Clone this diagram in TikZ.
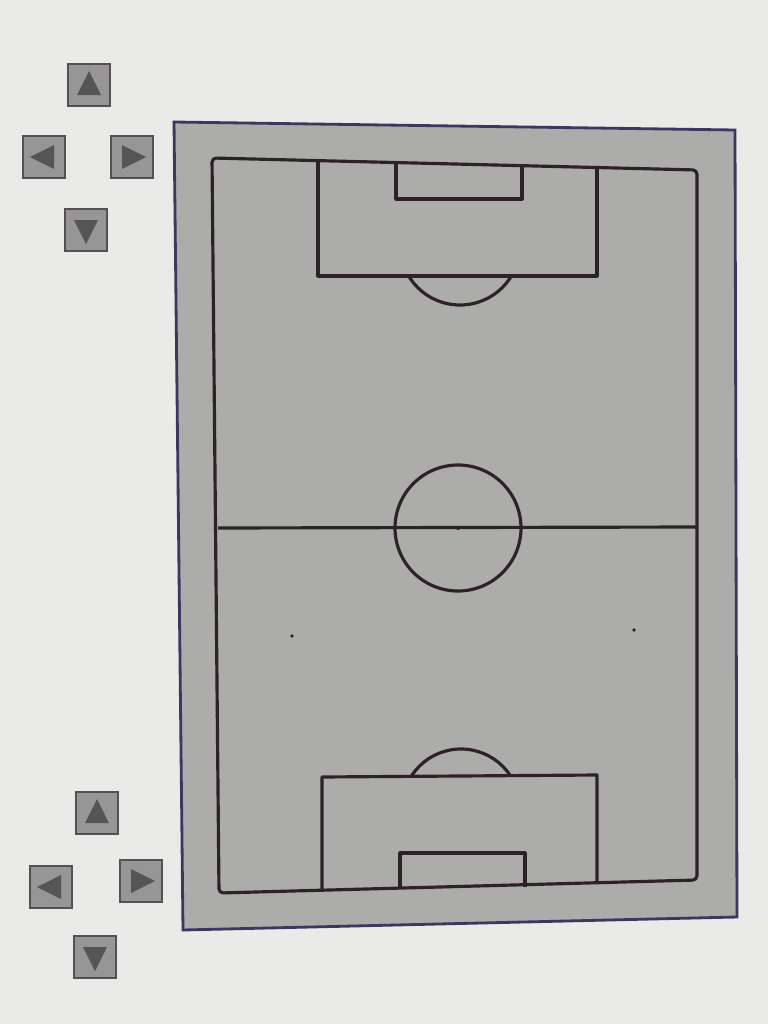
\documentclass[tikz,border=0pt]{standalone}
\usepackage{tikz}
\usetikzlibrary{positioning,calc}

\definecolor{paper}{RGB}{234,234,232}
\definecolor{turf}{RGB}{172,172,170}
\definecolor{ink}{RGB}{45,35,38}
\definecolor{edge}{RGB}{60,55,95}
\definecolor{btnfill}{RGB}{150,150,150}
\definecolor{btntri}{RGB}{85,85,85}

\begin{document}
\begin{tikzpicture}[
                x=0.01cm, y=-0.01cm,
                pitchline/.style={draw=ink, line width=0.9pt, line join=round},
                padbtn/.style={
                    draw=ink!80,
                    fill=btnfill,
                    minimum size=0.42cm,
                    inner sep=0pt,
                    line width=0.6pt
                },
                padtri/.style={fill=btntri}
            ]
                % paper
                \fill[paper] (0,0) rectangle (768,1024);
                \useasboundingbox (0,0) rectangle (768,1024);

                % outer board
                \filldraw[fill=turf, draw=edge, line width=0.8pt]
                    (174,122) -- (735,130) -- (737,917) -- (183,930) -- cycle;

                % touch lines
                \draw[pitchline, rounded corners=1.2pt]
                    (212,158) -- (697,170) -- (697,880) -- (219,893) -- cycle;
                \draw[pitchline] (218,528) -- (697,527);
                \draw[pitchline] (458,528) circle[radius=63];
                \fill[ink] (458,528) circle[radius=2];

                % top penalty area
                \draw[pitchline] (318,161) -- (318,276) -- (597,276) -- (597,168);
                \draw[pitchline] (396,163) -- (396,199) -- (522,199) -- (522,166);
                \begin{scope}
                    \clip (300,277) rectangle (620,340);
                    \draw[pitchline] (460,245) circle[radius=60];
                \end{scope}

                % bottom penalty area
                \draw[pitchline] (322,890) -- (322,777) -- (597,775) -- (597,883);
                \draw[pitchline] (400,889) -- (400,853) -- (525,853) -- (525,887);
                \begin{scope}
                    \clip (300,700) rectangle (620,776);
                    \draw[pitchline] (461,808) circle[radius=59];
                \end{scope}

                % penalty spots
                \fill[ink] (292,636) circle[radius=1.8];
                \fill[ink] (634,630) circle[radius=1.8];

                % direction pads
                \foreach \nm/\px/\py/\rot in {
                        tu/89/85/0, tl/44/157/90, tr/132/157/-90, td/86/230/180,
                        bu/97/813/0, bl/51/887/90, br/141/881/-90, bd/95/957/180} {
                    \node[padbtn] (\nm) at (\px,\py) {};
                    \fill[padtri, rotate around={\rot:(\px,\py)}]
                        (\px,\py-14) -- (\px+12,\py+10) -- (\px-12,\py+10) -- cycle;
                }
            \end{tikzpicture}
\end{document}
